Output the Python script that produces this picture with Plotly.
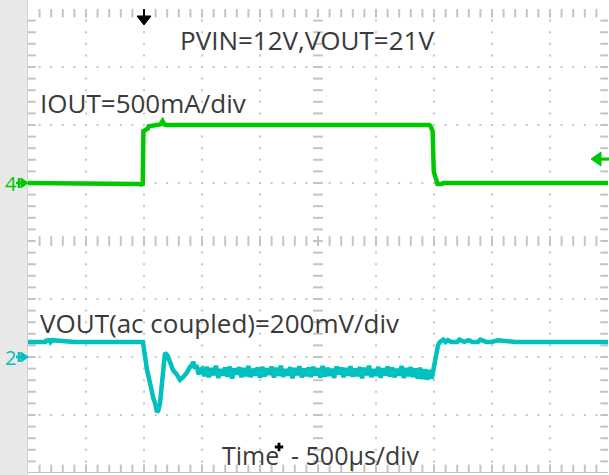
import plotly.graph_objects as go

# ---------------- data (read from the scope capture) ----------------
time_per_div_us = 500      # Time - 500us/div
iout_ma_per_div = 500      # IOUT = 500mA/div
vout_mv_per_div = 200      # VOUT(ac coupled) = 200mV/div
iout_ref_div = 5           # channel 4 reference marker (divisions from bottom)
vout_ref_div = 2           # channel 2 reference marker

iout_t_us = [0, 400, 800, 950, 975, 989, 995, 1009, 1034, 1040, 1078, 1100, 1140,
             1160, 1175, 1200, 2000, 3000, 3460, 3470, 3488, 3498, 3506, 3516,
             3530, 3566, 3580, 4000, 4500, 5000]
iout_ma = [0, 0, 0, -8, -12, -8, 448, 458, 470, 490, 495, 505, 505,
           534, 505, 500, 500, 500, 500, 490, 448, 97, 60, 26,
           -8, -8, 0, 0, 0, 0]

vout_pre_t_us = [0, 150, 160, 170, 185, 195, 210, 400, 600, 800, 985]
vout_pre_mv = [52, 52, 60, 52, 62, 52, 58, 52, 52, 52, 52]

vout_step_t_us = [991, 1023, 1052, 1080, 1095, 1112, 1123, 1138, 1152, 1166, 1181,
                  1203, 1224, 1250, 1282, 1310, 1339, 1368, 1397, 1411, 1425,
                  1440, 1454, 1470, 1483]
vout_step_mv = [52, -38, -97, -141, -159, -190, -185, -159, -102, -45, 14,
                5, -21, -45, -60, -79, -69, -55, -34, -30, -17,
                -40, -28, -60, -45]

vout_noise_t_us = list(range(1500, 3500, 20))
vout_noise_mv = [
    -40, -66, -34, -70, -38, -62, -30, -72, -42, -64,
    -36, -68, -33, -74, -40, -60, -35, -70, -38, -66,
    -31, -69, -41, -63, -36, -72, -34, -67, -39, -61,
    -33, -71, -37, -65, -30, -68, -42, -64, -35, -73,
    -38, -62, -32, -70, -40, -66, -36, -69, -34, -63,
    -39, -71, -31, -67, -37, -65, -41, -72, -33, -60,
    -36, -70, -38, -64, -32, -68, -40, -66, -35, -73,
    -37, -62, -30, -69, -42, -65, -34, -71, -39, -63,
    -33, -67, -36, -70, -41, -64, -31, -72, -38, -66,
    -35, -69, -40, -74, -37, -76, -42, -78, -45, -75,
]

vout_post_t_us = [3500, 3515, 3535, 3552, 3580, 3600, 3620, 3650, 3700, 3720, 3760,
                  3800, 3830, 3880, 3900, 3950, 4000, 4050, 4200, 4300, 4500,
                  4700, 4900, 5000]
vout_post_mv = [-28, 0, 41, 52, 60, 52, 58, 52, 52, 60, 52,
                58, 52, 52, 60, 52, 52, 58, 52, 52, 52,
                52, 52, 52]

vout_t_us = vout_pre_t_us + vout_step_t_us + vout_noise_t_us + vout_post_t_us
vout_mv = vout_pre_mv + vout_step_mv + vout_noise_mv + vout_post_mv

# ---------------- styling / layout ----------------
W, H = 609, 475
ML, MR, MT, MB = 28, 1, 9, 2
DIV = 58.0
GREEN = "#00c800"
CYAN = "#00c0c0"
TXT = "#3a3a3a"
GRID = "#c4c4c4"
BAND = "#e8e8e8"


def xd(px):
    return (px - ML) / DIV


def yd(py):
    return (H - MB - py) / DIV


def xp(px):  # paper x
    return (px - ML) / (W - ML - MR)


def ypp(py):  # paper y
    return (H - MB - py) / (H - MT - MB)


fig = go.Figure()

# graticule dots
dx, dy = [], []
for xv in [1, 2, 3, 4, 6, 7, 8, 9]:
    for k in range(1, 40):
        dx.append(xv); dy.append(k * 0.2)
for yv in [1, 2, 3, 5, 6, 7]:
    for k in range(1, 50):
        dx.append(k * 0.2); dy.append(yv)
fig.add_trace(go.Scatter(x=dx, y=dy, mode="markers", hoverinfo="skip",
                         marker=dict(symbol="square", size=2, color=GRID,
                                     line=dict(width=0))))
# center cross ticks
cx = [5] * 39
cy = [k * 0.2 for k in range(1, 40)]
fig.add_trace(go.Scatter(x=cx, y=cy, mode="markers", hoverinfo="skip",
                         marker=dict(symbol="line-ew", size=7, color=GRID,
                                     line=dict(width=2, color=GRID))))
hx = [k * 0.2 for k in range(1, 50)]
hy = [4] * 49
fig.add_trace(go.Scatter(x=hx, y=hy, mode="markers", hoverinfo="skip",
                         marker=dict(symbol="line-ns", size=7, color=GRID,
                                     line=dict(width=2, color=GRID))))
# edge ticks
ex = [0] * 39 + [10] * 39
ey = cy + cy
fig.add_trace(go.Scatter(x=ex, y=ey, mode="markers", hoverinfo="skip",
                         marker=dict(symbol="line-ew", size=11, color=GRID,
                                     line=dict(width=2, color=GRID))))
tx = hx + hx
ty = [8] * 49 + [0] * 49
fig.add_trace(go.Scatter(x=tx, y=ty, mode="markers", hoverinfo="skip",
                         marker=dict(symbol="line-ns", size=12, color=GRID,
                                     line=dict(width=2, color=GRID))))

# waveforms
fig.add_trace(go.Scatter(
    x=[t / time_per_div_us for t in iout_t_us],
    y=[iout_ref_div + v / iout_ma_per_div for v in iout_ma],
    mode="lines", line=dict(color=GREEN, width=4.5), hoverinfo="skip"))
fig.add_trace(go.Scatter(
    x=[t / time_per_div_us for t in vout_t_us],
    y=[vout_ref_div + v / vout_mv_per_div for v in vout_mv],
    mode="lines", line=dict(color=CYAN, width=4.5), hoverinfo="skip"))

shapes = []
# white margins (paper background is the grey band colour)
shapes.append(dict(type="rect", xref="paper", yref="paper",
                   x0=0, x1=xp(W + 2), y0=1, y1=ypp(-2),
                   fillcolor="white", line=dict(width=0), layer="below"))
shapes.append(dict(type="rect", xref="paper", yref="paper",
                   x0=0, x1=xp(W + 2), y0=ypp(H + 2), y1=0,
                   fillcolor="white", line=dict(width=0), layer="below"))
shapes.append(dict(type="rect", xref="paper", yref="paper",
                   x0=1, x1=xp(W + 2), y0=ypp(H + 2), y1=ypp(-2),
                   fillcolor="white", line=dict(width=0), layer="below"))
shapes.append(dict(type="line", xref="paper", yref="paper",
                   x0=xp(27.5), x1=xp(27.5), y0=ypp(H + 2), y1=ypp(-2),
                   line=dict(color="#d2d2d2", width=1), layer="above"))
# bottom border line
shapes.append(dict(type="line", xref="x", yref="y", x0=0, x1=10,
                   y0=yd(472.5), y1=yd(472.5), line=dict(color=GRID, width=1)))

# trigger position marker (top, black)
shapes.append(dict(type="line", xref="x", yref="y", x0=xd(144), x1=xd(144),
                   y0=yd(8), y1=yd(17), line=dict(color="black", width=2)))
shapes.append(dict(type="path", xref="x", yref="y",
                   path=f"M {xd(137)},{yd(16)} L {xd(151)},{yd(16)} L {xd(144)},{yd(25)} Z",
                   fillcolor="black", line=dict(color="black", width=1)))

# trigger level marker (right, green)
shapes.append(dict(type="path", xref="x", yref="y",
                   path=f"M {xd(591)},{yd(159)} L {xd(601)},{yd(152)} L {xd(601)},{yd(166)} Z",
                   fillcolor=GREEN, line=dict(color=GREEN, width=1)))
shapes.append(dict(type="line", xref="paper", yref="y", x0=xp(600), x1=xp(609),
                   y0=yd(159), y1=yd(159), line=dict(color=GREEN, width=3)))


# channel reference markers (left)
def ch_marker(py, color):
    out = []
    out.append(dict(type="line", xref="paper", yref="y", x0=xp(19), x1=xp(19),
                    y0=yd(py - 5), y1=yd(py + 5), line=dict(color=color, width=2.5),
                    layer="above"))
    out.append(dict(type="line", xref="paper", yref="y", x0=xp(16), x1=xp(27),
                    y0=yd(py), y1=yd(py), line=dict(color=color, width=2.5),
                    layer="above"))
    out.append(dict(type="path", xref="paper", yref="y",
                    path=f"M {xp(21)},{yd(py - 5)} L {xp(28)},{yd(py)} L {xp(21)},{yd(py + 5)} Z",
                    fillcolor=color, line=dict(color=color, width=1), layer="above"))
    return out


shapes += ch_marker(183, GREEN)
shapes += ch_marker(357, CYAN)

FONT = "Open Sans"
ann = []


def label(text, px, py, size=26, color=TXT):
    ann.append(dict(text=text, xref="x", yref="y", x=xd(px), y=yd(py),
                    xanchor="left", yanchor="middle", showarrow=False,
                    font=dict(family=FONT, size=size, color=color)))


label("PVIN=12V,VOUT=21V", 178, 40)
label("IOUT=500mA/div", 38, 103)
label("VOUT(ac coupled)=200mV/div", 38, 323)
label("Time", 220, 455, size=25)
label("- 500µs/div", 289, 455, size=25)

ann.append(dict(text="4", xref="paper", yref="y", x=xp(10.5), y=yd(183.5),
                xanchor="center", yanchor="middle", showarrow=False,
                font=dict(family=FONT, size=20, color=GREEN)))
ann.append(dict(text="2", xref="paper", yref="y", x=xp(10.5), y=yd(357.5),
                xanchor="center", yanchor="middle", showarrow=False,
                font=dict(family=FONT, size=20, color=CYAN)))

# small black cross next to "Time"
fig.add_trace(go.Scatter(x=[xd(279)], y=[yd(447)], mode="markers", hoverinfo="skip",
                         marker=dict(symbol="cross", size=7, color="black",
                                     line=dict(width=0))))

fig.update_layout(
    width=W, height=H, autosize=False,
    margin=dict(l=ML, r=MR, t=MT, b=MB, pad=0),
    paper_bgcolor=BAND, plot_bgcolor="white",
    showlegend=False,
    shapes=shapes, annotations=ann,
    xaxis=dict(range=[0, 10], showgrid=False, zeroline=False, showticklabels=False,
               ticks="", showline=False, fixedrange=True),
    yaxis=dict(range=[0, 8], showgrid=False, zeroline=False, showticklabels=False,
               ticks="", showline=False, fixedrange=True),
)

fig.write_html("out.html", config={"displayModeBar": False},
               post_script="document.body.style.margin='0';document.body.style.overflow='hidden';")
